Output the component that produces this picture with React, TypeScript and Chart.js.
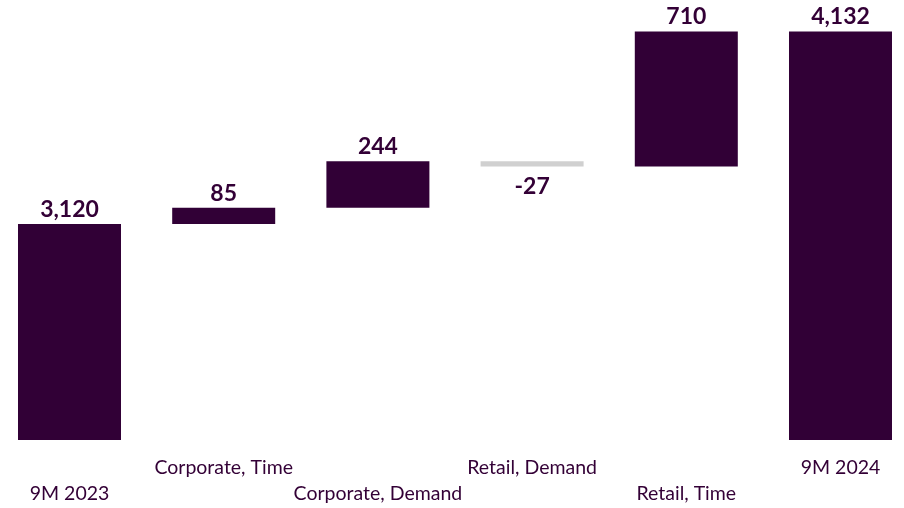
import React, { useEffect, useRef } from "react";
import { Chart, registerables } from "chart.js";

Chart.register(...registerables);

// ---- data ----
const CATEGORIES: string[] = [
  "9M 2023",
  "Corporate, Time",
  "Corporate, Demand",
  "Retail, Demand",
  "Retail, Time",
  "9M 2024",
];
const START_TOTAL = 3120;
const CHANGES: number[] = [85, 244, -27, 710];
const END_TOTAL = 4132;

// visible value window of the (hidden) value axis
const Y_MIN = 1984;
const Y_MAX = 4297;

const BAR_COLOR = "#310036";
const NEG_COLOR = "#D0D0D0";
const TEXT_COLOR = "#330036";
const FONT = "Lato, 'Open Sans', sans-serif";

// build waterfall floating ranges from the arrays
function buildRanges(): { ranges: [number, number][]; values: number[] } {
  const ranges: [number, number][] = [];
  const values: number[] = [];
  ranges.push([Y_MIN, START_TOTAL]);
  values.push(START_TOTAL);
  let run = START_TOTAL;
  for (const c of CHANGES) {
    ranges.push([run, run + c]);
    values.push(c);
    run += c;
  }
  ranges.push([Y_MIN, END_TOTAL]);
  values.push(END_TOTAL);
  return { ranges, values };
}

// staggered two-line labels: even index on the lower line, odd on the upper
const TICK_LABELS = CATEGORIES.map((c, i) => (i % 2 === 0 ? ["", c] : [c, ""]));

const valueLabels = {
  id: "valueLabels",
  afterDatasetsDraw(chart: any) {
    const { ctx } = chart;
    const meta = chart.getDatasetMeta(0);
    const values: number[] = chart.data.datasets[0].values;
    ctx.save();
    ctx.font = `bold 23px ${FONT}`;
    ctx.fillStyle = TEXT_COLOR;
    ctx.textAlign = "center";
    ctx.textBaseline = "alphabetic";
    meta.data.forEach((el: any, i: number) => {
      const v = values[i];
      const text = v.toLocaleString("en-US");
      const top = Math.min(el.y, el.base);
      const bottom = Math.max(el.y, el.base);
      if (v < 0) {
        ctx.fillText(text, el.x, bottom + 28);
      } else {
        ctx.fillText(text, el.x, top - 7);
      }
    });
    ctx.restore();
  },
};

export default function App() {
  const ref = useRef<HTMLCanvasElement | null>(null);

  useEffect(() => {
    if (!ref.current) return;
    const { ranges, values } = buildRanges();
    const colors = values.map((v) => (v < 0 ? NEG_COLOR : BAR_COLOR));
    const chart = new Chart(ref.current, {
      type: "bar",
      data: {
        labels: TICK_LABELS as any,
        datasets: [
          {
            data: ranges as any,
            values,
            backgroundColor: colors,
            borderWidth: 0,
            barPercentage: 1,
            categoryPercentage: 0.668,
            clip: false,
          } as any,
        ],
      },
      options: {
        animation: false,
        responsive: false,
        layout: { padding: { left: 69.5, right: 63.5, top: 0, bottom: -14 } },
        plugins: {
          legend: { display: false },
          tooltip: { enabled: false },
        },
        scales: {
          x: {
            offset: false,
            grid: { display: false, drawTicks: false },
            border: { display: false },
            ticks: {
              color: TEXT_COLOR,
              padding: 15,
              maxRotation: 0,
              autoSkip: false,
              font: { family: FONT, size: 19.5, lineHeight: 26 / 19.5 },
            },
          },
          y: {
            display: false,
            min: Y_MIN,
            max: Y_MAX,
          },
        },
      },
      plugins: [valueLabels],
    });
    return () => chart.destroy();
  }, []);

  return (
    <div style={{ position: "fixed", left: 0, top: 0, width: 904, height: 508, background: "#fff" }}>
      <canvas ref={ref} width={904} height={508} style={{ display: "block" }} />
    </div>
  );
}
